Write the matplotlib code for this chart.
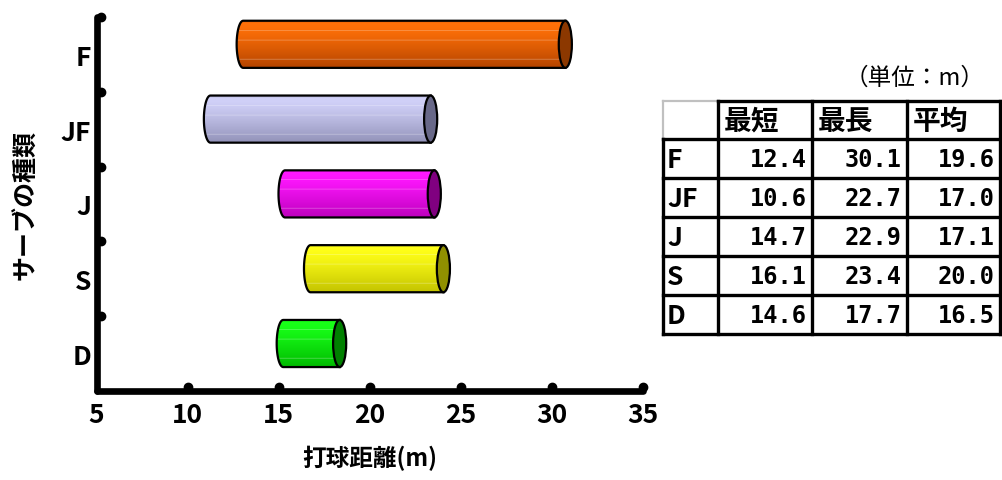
import numpy as np
import matplotlib.pyplot as plt
from matplotlib.patches import Ellipse, PathPatch
from matplotlib.path import Path
from matplotlib.transforms import offset_copy

plt.rcParams['font.family'] = ['Noto Sans CJK JP', 'DejaVu Sans']

# serve types and hit distances (m)
serves = ['F', 'JF', 'J', 'S', 'D']
shortest = [12.4, 10.6, 14.7, 16.1, 14.6]
longest = [30.1, 22.7, 22.9, 23.4, 17.7]
average = [19.6, 17.0, 17.1, 20.0, 16.5]
col_heads = ['最短', '最長', '平均']
xticks = [5, 10, 15, 20, 25, 30, 35]

# (light, dark, cap) colours for each cylinder
colours = [
    ((255, 112, 8), (180, 68, 0), (140, 56, 0)),
    ((208, 208, 248), (146, 146, 184), (104, 104, 136)),
    ((255, 24, 255), (190, 0, 190), (128, 0, 128)),
    ((255, 255, 24), (196, 196, 0), (144, 144, 0)),
    ((24, 255, 24), (0, 186, 0), (0, 128, 0)),
]

fig = plt.figure(figsize=(10.02, 4.81), dpi=100)
W, H = 1002, 481
ax = fig.add_axes([96.5 / W, 1 - 392 / H, 546 / W, 374 / H])
ax.set_xlim(5, 35)
ax.set_ylim(4.5, -0.5)

dx = 0.66     # depth shift to the right
dy = -0.135   # depth shift upwards
hh = 0.315    # half height of a cylinder
rx = 0.36     # half width of the end caps


def gradient(light, dark, n=80):
    t = np.linspace(0, 1, n)
    t = np.clip((t - 0.12) / 0.88, 0, 1) ** 1.2
    light = np.array(light) / 255
    dark = np.array(dark) / 255
    g = light[None, :] * (1 - t[:, None]) + dark[None, :] * t[:, None]
    g[:4] = g[:4] * 0.9
    for f in (0.22, 0.42, 0.82):
        k = int(f * n)
        g[k] = g[k] * 0.6 + 0.4
    return g[:, None, :]


for i, (lo, hi) in enumerate(zip(shortest, longest)):
    light, dark, cap = colours[i]
    yc = i + dy
    x0, x1 = lo + dx, hi + dx
    t = np.linspace(np.pi / 2, 3 * np.pi / 2, 40)
    verts = [(x0 + rx * np.cos(a), yc - hh * np.sin(a)) for a in t]
    verts += [(x1, yc + hh), (x1, yc - hh), verts[0]]
    codes = [Path.MOVETO] + [Path.LINETO] * (len(verts) - 2) + [Path.CLOSEPOLY]
    body = PathPatch(Path(verts, codes), facecolor='none', edgecolor='black',
                     lw=1.6, zorder=3)
    ax.add_patch(body)
    im = ax.imshow(gradient(light, dark), extent=(x0 - rx, x1, yc + hh, yc - hh),
                   aspect='auto', origin='upper', zorder=2, interpolation='bilinear')
    im.set_clip_path(body)
    ax.add_patch(Ellipse((x1, yc), 2 * rx, 2 * hh,
                         facecolor=np.array(cap) / 255, edgecolor='black',
                         lw=1.6, zorder=4))

ax.set_xlim(5, 35)
ax.set_ylim(4.5, -0.5)

for side in ('top', 'right'):
    ax.spines[side].set_visible(False)
for side in ('left', 'bottom'):
    ax.spines[side].set_linewidth(4.8)
    ax.spines[side].set_capstyle('round')

ax.set_xticks(xticks)
ax.set_xticklabels([str(v) for v in xticks])
ax.set_yticks(range(len(serves)))
ax.set_yticklabels(serves)
ax.tick_params(axis='x', length=0, pad=7, labelsize=19)
ax.tick_params(axis='y', length=0, pad=4, labelsize=19)
for lab in ax.get_xticklabels() + ax.get_yticklabels():
    lab.set_fontweight('bold')

# round tick dots on the inside of the axes
tx = offset_copy(ax.get_xaxis_transform(), fig=fig, x=0, y=4.5, units='dots')
ax.plot(xticks[1:], [0] * (len(xticks) - 1), 'o', color='black', ms=6,
        transform=tx, clip_on=False, zorder=5)
ty = offset_copy(ax.get_yaxis_transform(), fig=fig, x=4.5, y=0, units='dots')
bounds = [b - 0.5 for b in range(len(serves))]
ax.plot([0] * len(bounds), bounds, 'o', color='black', ms=6,
        transform=ty, clip_on=False, zorder=5)

ax.set_xlabel('打球距離(m)', fontsize=17, fontweight='bold', labelpad=12)
ax.set_ylabel('サーブの種類', fontsize=18, fontweight='bold', labelpad=16)

# summary table on the right, laid out in pixel units
tab = fig.add_axes([0, 0, 1, 1])
tab.set_xlim(0, W)
tab.set_ylim(H, 0)
tab.axis('off')
tab.patch.set_alpha(0)

xs = [663, 718, 812, 907, 1000]
ys = [102, 140, 179, 218, 257, 296, 335]
lw = 2.4
tab.plot([xs[0], xs[1]], [ys[0], ys[0]], color='#c0c0c0', lw=1.6)
tab.plot([xs[0], xs[0]], [ys[0], ys[1]], color='#c0c0c0', lw=1.6)
tab.plot([xs[1], xs[-1]], [ys[0], ys[0]], color='black', lw=lw, solid_capstyle='projecting')
for y in ys[1:]:
    tab.plot([xs[0], xs[-1]], [y, y], color='black', lw=lw, solid_capstyle='projecting')
tab.plot([xs[0], xs[0]], [ys[1], ys[-1]], color='black', lw=lw, solid_capstyle='projecting')
for x in xs[1:]:
    tab.plot([x, x], [ys[0], ys[-1]], color='black', lw=lw, solid_capstyle='projecting')

for j, head in enumerate(col_heads):
    tab.text(xs[j + 1] + 6, (ys[0] + ys[1]) / 2 + 1, head, fontsize=20,
             fontweight='bold', ha='left', va='center')
for i, name in enumerate(serves):
    yc = (ys[i + 1] + ys[i + 2]) / 2 + 1
    tab.text(xs[0] + 4, yc, name, fontsize=19, fontweight='bold',
             ha='left', va='center')
    for j, v in enumerate((shortest[i], longest[i], average[i])):
        tab.text(xs[j + 2] - 5, yc, f'{v:.1f}', fontsize=17, fontweight='bold',
                 family='DejaVu Sans Mono', ha='right', va='center')

tab.text(985, 78, '（単位：m）', fontsize=17, ha='right', va='center')

fig.savefig('out.png', dpi=100)
